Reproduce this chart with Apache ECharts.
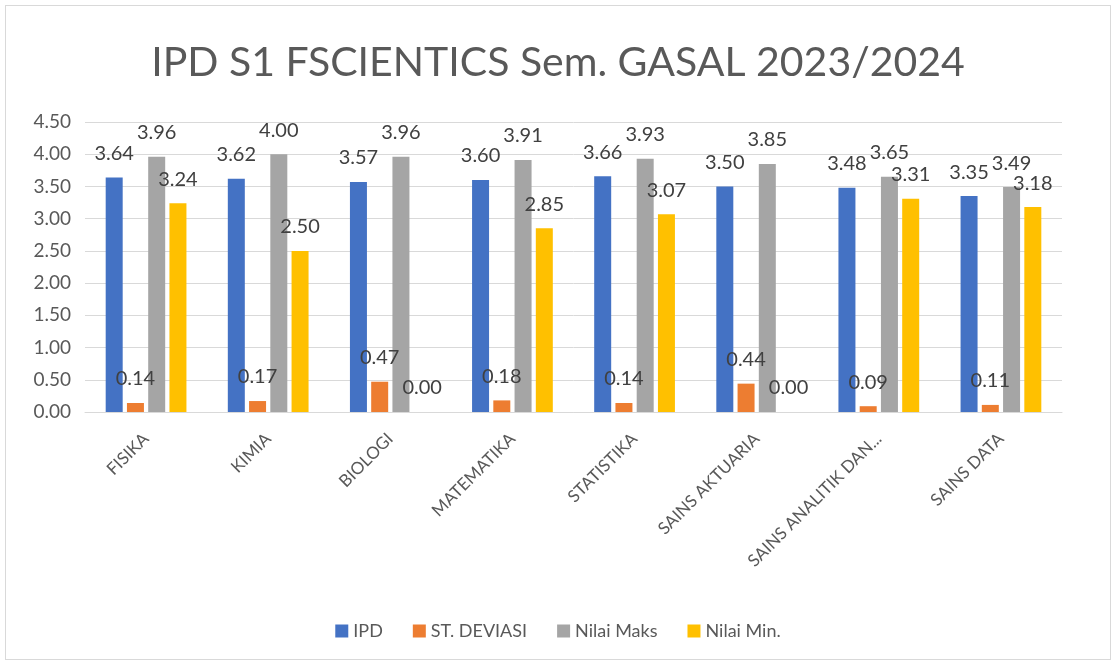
<!DOCTYPE html>
<html>
<head>
<meta charset="utf-8">
<script src="https://cdn.jsdelivr.net/npm/echarts@6/dist/echarts.min.js"></script>
<style>
  html, body { margin: 0; padding: 0; background: #fff; }
  #chart { position: absolute; left: 5px; top: 5px; width: 1106px; height: 655px; border: 1px solid #d9d9d9; box-sizing: border-box; }
</style>
</head>
<body>
<div id="chart"></div>
<script>
// kategori program studi
const categories = ['FISIKA', 'KIMIA', 'BIOLOGI', 'MATEMATIKA', 'STATISTIKA', 'SAINS AKTUARIA', 'SAINS ANALITIK DAN...', 'SAINS DATA']
const ipd = [3.64, 3.62, 3.57, 3.60, 3.66, 3.50, 3.48, 3.35]
const stDeviasi = [0.14, 0.17, 0.47, 0.18, 0.14, 0.44, 0.09, 0.11]
const nilaiMaks = [3.96, 4.00, 3.96, 3.91, 3.93, 3.85, 3.65, 3.49]
const nilaiMin = [3.24, 2.50, 0.00, 2.85, 3.07, 0.00, 3.31, 3.18]

const FONT = 'Lato'

const chart = echarts.init(document.getElementById('chart'))

function bar(name, data, color) {
  return {
    name: name,
    type: 'bar',
    data: data,
    barWidth: 17,
    barGap: '25%',
    itemStyle: { color: color },
    label: {
      show: true,
      position: 'top',
      distance: 14,
      fontFamily: FONT,
      fontSize: 20,
      color: '#404040',
      formatter: p => p.value.toFixed(2)
    }
  }
}

chart.setOption({
  textStyle: { fontFamily: FONT },
  title: {
    text: 'IPD S1 FSCIENTICS Sem. GASAL 2023/2024',
    left: 'center',
    top: 31,
    textStyle: { fontFamily: FONT, fontSize: 41, fontWeight: 'normal', color: '#595959' }
  },
  legend: {
    bottom: 14,
    left: 'center',
    icon: 'rect',
    itemWidth: 13,
    itemHeight: 13,
    itemGap: 30,
    textStyle: { fontFamily: FONT, fontSize: 18, color: '#595959' },
    data: ['IPD', 'ST. DEVIASI', 'Nilai Maks', 'Nilai Min.']
  },
  grid: { left: 79, right: 48, top: 116, bottom: 247 },
  xAxis: {
    type: 'category',
    data: categories,
    axisLine: { lineStyle: { color: '#d9d9d9', width: 1 } },
    axisTick: { show: false },
    axisLabel: {
      rotate: 45,
      interval: 0,
      margin: 24,
      fontFamily: FONT,
      fontSize: 17,
      color: '#595959'
    }
  },
  yAxis: {
    type: 'value',
    min: 0,
    max: 4.5,
    interval: 0.5,
    axisLine: { show: false },
    axisTick: { show: false },
    splitLine: { lineStyle: { color: '#d9d9d9', width: 1 } },
    axisLabel: {
      margin: 14,
      fontFamily: FONT,
      fontSize: 19,
      color: '#595959',
      formatter: v => v.toFixed(2)
    }
  },
  series: [
    bar('IPD', ipd, '#4472c4'),
    bar('ST. DEVIASI', stDeviasi, '#ed7d31'),
    bar('Nilai Maks', nilaiMaks, '#a5a5a5'),
    bar('Nilai Min.', nilaiMin, '#ffc000')
  ]
})
</script>
</body>
</html>
